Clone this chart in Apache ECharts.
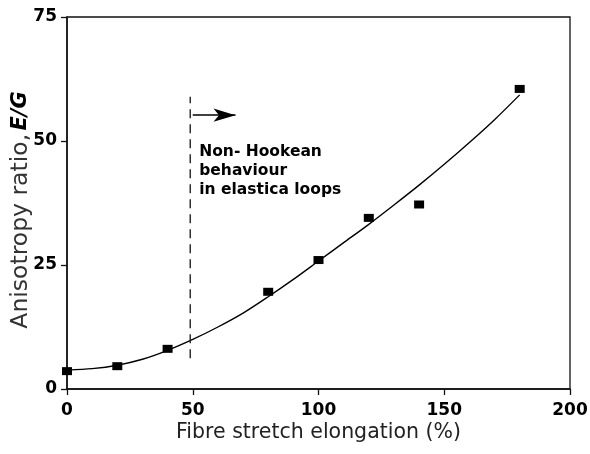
<!DOCTYPE html>
<html>
<head>
<meta charset="utf-8">
<script src="https://cdn.jsdelivr.net/npm/echarts@6/dist/echarts.min.js"></script>
<style>html,body{margin:0;padding:0;background:#fff}#c{width:590px;height:454px}</style>
</head>
<body>
<div id="c"></div>
<script>
// Measured points
var elongation = [0, 20, 40, 80, 100, 120, 140, 180];
var ratio = [3.6, 4.6, 8.1, 19.6, 26.0, 34.5, 37.2, 60.5];
// Fitted curve
var curveX = [0, 10, 20, 30, 40, 50, 60, 70, 80, 90, 100, 110, 120, 130, 140, 150, 160, 170, 180];
var curveY = [3.8, 4.1, 4.8, 6.0, 7.8, 10.0, 12.5, 15.3, 18.6, 22.1, 25.8, 29.5, 33.2, 37.1, 41.1, 45.3, 49.7, 54.3, 59.3];
// Threshold marker
var thresholdX = [49, 49];
var thresholdY = [6.2, 58.9];
var arrowX = [50, 67];
var arrowY = [55.2, 55.2];
var noteX = [49.8];
var noteY = [44];
var noteText = ['Non- Hookean', 'behaviour', 'in elastica loops'];
var xTicks = [0, 200, 50];
var yTicks = [0, 75, 25];

function zip(a, b) { return a.map(function (v, i) { return [v, b[i]]; }); }

var chart = echarts.init(document.getElementById('c'));
var font = 'DejaVu Sans, Liberation Sans, sans-serif';
chart.setOption({
  animation: false,
  backgroundColor: '#fff',
  grid: { left: 67, right: 20, top: 17, bottom: 65, show: true, borderColor: '#111', borderWidth: 1.3,
          containLabel: false, outerBoundsMode: 'none' },
  xAxis: {
    type: 'value', min: xTicks[0], max: xTicks[1], interval: xTicks[2],
    axisLine: { onZero: false, lineStyle: { color: '#111', width: 1.5 } },
    axisTick: { inside: false, length: 6, lineStyle: { color: '#111', width: 1.3 } },
    splitLine: { show: false },
    axisLabel: { color: '#000', fontSize: 17, fontWeight: 'bold', fontFamily: font, margin: 13 },
    name: 'Fibre stretch elongation (%)', nameLocation: 'middle', nameGap: 33, nameMoveOverlap: false,
    nameTextStyle: { color: '#222', fontSize: 20.5, fontFamily: font, fontWeight: 'normal' }
  },
  yAxis: {
    type: 'value', min: yTicks[0], max: yTicks[1], interval: yTicks[2],
    axisLine: { lineStyle: { color: '#111', width: 1.5 } },
    axisTick: { inside: false, length: 6, lineStyle: { color: '#111', width: 1.3 } },
    splitLine: { show: false },
    axisLabel: { color: '#000', fontSize: 17, fontWeight: 'bold', fontFamily: font, margin: 10 },
    name: '{a|Anisotropy ratio,} {b|E/G}', nameLocation: 'middle', nameGap: 34, nameRotate: 90,
    nameMoveOverlap: false,
    nameTextStyle: {
      padding: [0, 14, 0, 0],
      rich: {
        a: { color: '#333', fontSize: 23.5, fontFamily: font, fontWeight: 'normal' },
        b: { color: '#000', fontSize: 21, fontFamily: font, fontWeight: 'bold', fontStyle: 'italic' }
      }
    }
  },
  series: [
    {
      type: 'line', data: zip(curveX, curveY), smooth: 0.3, symbol: 'none',
      lineStyle: { color: '#000', width: 1.4 }, z: 2
    },
    {
      type: 'scatter', data: zip(elongation, ratio), symbol: 'rect', symbolSize: [10, 8],
      itemStyle: { color: '#000', opacity: 1 }, z: 3
    },
    {
      type: 'line', data: zip(thresholdX, thresholdY), symbol: 'none',
      lineStyle: { color: '#222', width: 1.4, type: [9, 6] }, z: 2
    },
    {
      type: 'line', data: [], symbol: 'none',
      markLine: {
        silent: true, symbol: ['none', 'arrow'], symbolSize: [10, 22],
        lineStyle: { color: '#000', width: 1.5, type: 'solid' },
        label: { show: false },
        data: [[{ coord: [arrowX[0], arrowY[0]] }, { coord: [arrowX[1], arrowY[1]] }]]
      }
    },
    {
      type: 'scatter', data: zip(noteX, noteY), symbolSize: 0,
      itemStyle: { opacity: 1 },
      label: {
        show: true, position: 'right', distance: 7, align: 'left',
        formatter: noteText.join('\n'),
        color: '#000', fontSize: 15.5, fontWeight: 'bold', fontFamily: font, lineHeight: 19
      }
    }
  ]
});
</script>
</body>
</html>
